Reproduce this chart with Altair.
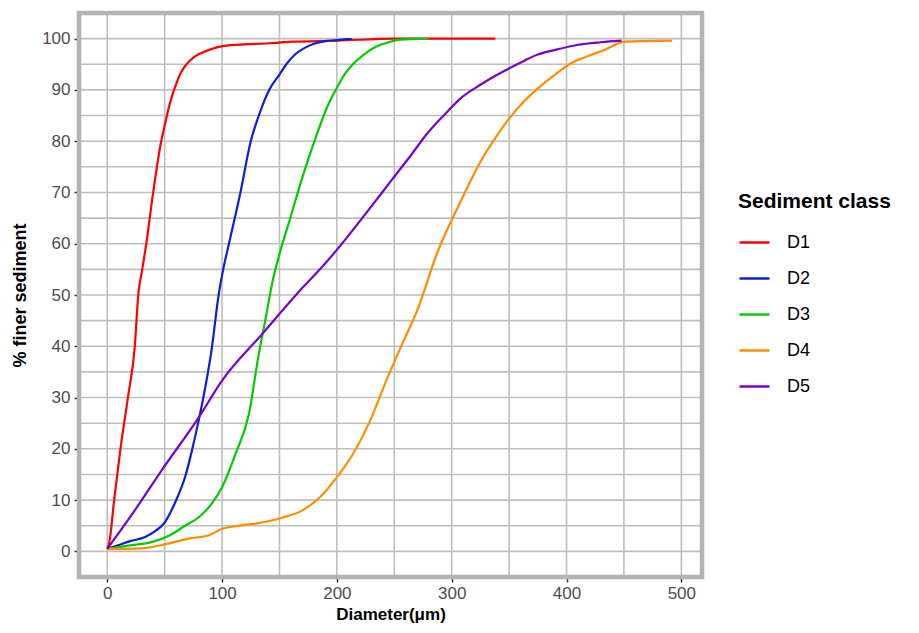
import altair as alt
import pandas as pd

d1_x = [0, 2, 6, 11.5, 18, 24, 27, 30.5, 34, 40, 47, 50, 53, 56, 59, 64, 69, 75, 82, 94, 112, 141, 161, 200, 250, 338]
d1_y = [0.5, 2, 10, 20, 30, 40, 50, 55, 60, 70, 80, 83, 86, 88.5, 90.5, 93.3, 95, 96.3, 97.2, 98.2, 98.8, 99.1, 99.4, 99.6, 100, 100]

d2_x = [0, 9.4, 20, 33, 42, 50, 56, 61, 67.8, 73.7, 79.6, 85.4, 91, 97, 101, 106, 116, 125, 132, 141, 150, 157, 164, 172, 180, 190, 200, 213]
d2_y = [0.5, 1.2, 2.0, 2.8, 4.0, 5.6, 8, 10.5, 14.5, 19.6, 25.5, 32, 39.5, 50, 55, 60, 70, 80, 85, 90, 93, 95.3, 97, 98.2, 99, 99.5, 99.7, 100]

d3_x = [0, 21, 38.6, 55, 67.8, 80, 91, 100, 111.7, 123.4, 132, 138, 144, 150, 158.6, 170, 182, 193.6, 199, 206, 214, 224, 234, 245, 255, 280]
d3_y = [0.5, 1.2, 1.8, 3.2, 5, 6.7, 9.3, 12.5, 19, 26.8, 38.5, 45.5, 52.7, 58, 64.4, 73, 81, 87.7, 90, 92.8, 95, 97, 98.4, 99.3, 99.8, 100]

d4_x = [0, 30, 47, 71, 88, 100, 111, 129, 153, 170, 185, 199, 214, 229, 243, 258, 270, 287, 310.7, 325, 340, 357, 375, 390, 404, 420, 433, 451, 492]
d4_y = [0.5, 0.6, 1.2, 2.5, 3.1, 4.4, 4.9, 5.4, 6.6, 8.0, 10.5, 14.2, 19, 25.5, 33.3, 41, 47, 58, 69.6, 76, 81.3, 86.3, 90.3, 93, 95.2, 96.7, 97.8, 99.4, 99.6]

d5_x = [0, 24, 47.4, 79.6, 100, 135, 170, 190, 208, 228, 249, 265, 278, 293, 308, 325, 340, 358, 375, 392, 410, 430, 448]
d5_y = [0.5, 8, 15.8, 26.1, 33.3, 42.4, 51.4, 56.2, 61, 66.7, 72.8, 77.4, 81.3, 85, 88.4, 91, 93, 95.1, 96.9, 97.9, 98.8, 99.3, 99.6]

classes = ["D1", "D2", "D3", "D4", "D5"]
colors = ["#FF0000", "#0A1FD6", "#00CC00", "#FF8C00", "#7A00CC"]

x_ticks = [0, 100, 200, 300, 400, 500]
y_ticks = [0, 10, 20, 30, 40, 50, 60, 70, 80, 90, 100]
x_grid = [0, 50, 100, 150, 200, 250, 300, 350, 400, 450, 500]
y_grid = [0, 5, 10, 15, 20, 25, 30, 35, 40, 45, 50, 55, 60, 65, 70, 75, 80, 85, 90, 95, 100]
x_limits = [-24.6, 518]
y_limits = [-5, 105]

rows = []
for name, xs, ys in zip(classes, [d1_x, d2_x, d3_x, d4_x, d5_x], [d1_y, d2_y, d3_y, d4_y, d5_y]):
    for i, (a, b) in enumerate(zip(xs, ys)):
        rows.append({"cls": name, "x": a, "y": b, "order": i})
df = pd.DataFrame(rows)

xscale = alt.Scale(domain=x_limits, nice=False, zero=False)
yscale = alt.Scale(domain=y_limits, nice=False, zero=False)

grid_color = "#BEBEBE"
FONT = "Liberation Sans"

xg = alt.Chart(pd.DataFrame({"g": x_grid})).mark_rule(color=grid_color, strokeWidth=1.6).encode(
    x=alt.X("g:Q", scale=xscale))
yg = alt.Chart(pd.DataFrame({"g": y_grid})).mark_rule(color=grid_color, strokeWidth=1.6).encode(
    y=alt.Y("g:Q", scale=yscale))

frame = alt.Chart(pd.DataFrame({"a": [0]})).mark_rect(
    fill=None, stroke="#B3B3B3", strokeWidth=4.5).encode(
    x=alt.datum(x_limits[0], scale=xscale), x2=alt.datum(x_limits[1]),
    y=alt.datum(y_limits[0], scale=yscale), y2=alt.datum(y_limits[1]))

lines = alt.Chart(df).mark_line(strokeWidth=2.2, interpolate="monotone").encode(
    x=alt.X("x:Q", scale=xscale, title="Diameter(μm)",
            axis=alt.Axis(values=x_ticks, grid=False, domain=False, tickColor="#333333",
                          tickSize=5, tickWidth=1.5, labelFontSize=17, labelColor="#4D4D4D",
                          labelPadding=3, titleFontSize=17, titleFontWeight="bold",
                          titleColor="#000000", titlePadding=5, labelFont=FONT,
                          titleFont=FONT)),
    y=alt.Y("y:Q", scale=yscale, title="% finer sediment",
            axis=alt.Axis(values=y_ticks, grid=False, domain=False, tickColor="#333333",
                          tickSize=5, tickWidth=1.5, labelFontSize=17, labelColor="#4D4D4D",
                          labelPadding=4, titleFontSize=18, titleFontWeight="bold",
                          titleColor="#000000", titlePadding=12, labelFont=FONT,
                          titleFont=FONT)),
    color=alt.Color("cls:N", scale=alt.Scale(domain=classes, range=colors),
                    legend=alt.Legend(title="Sediment class", orient="none", legendX=659, legendY=178,
                                      symbolType="stroke", symbolStrokeWidth=2.5, symbolSize=900,
                                      labelFontSize=18, titleFontSize=21, titleFont=FONT,
                                      labelFont=FONT, titleFontWeight="bold",
                                      titleColor="#000000", labelColor="#000000",
                                      rowPadding=10, titlePadding=14, labelOffset=16)),
    detail="cls:N",
    order="order:Q",
)

chart = alt.layer(xg, yg, lines, frame).properties(
    width=623, height=564,
    autosize=alt.AutoSizeParams(type="none"),
    padding={"left": 71, "top": 5, "right": 209, "bottom": 48},
).configure_view(stroke=None).configure(background="white")

chart.save("out.html", embed_options={"renderer": "svg", "actions": False})
